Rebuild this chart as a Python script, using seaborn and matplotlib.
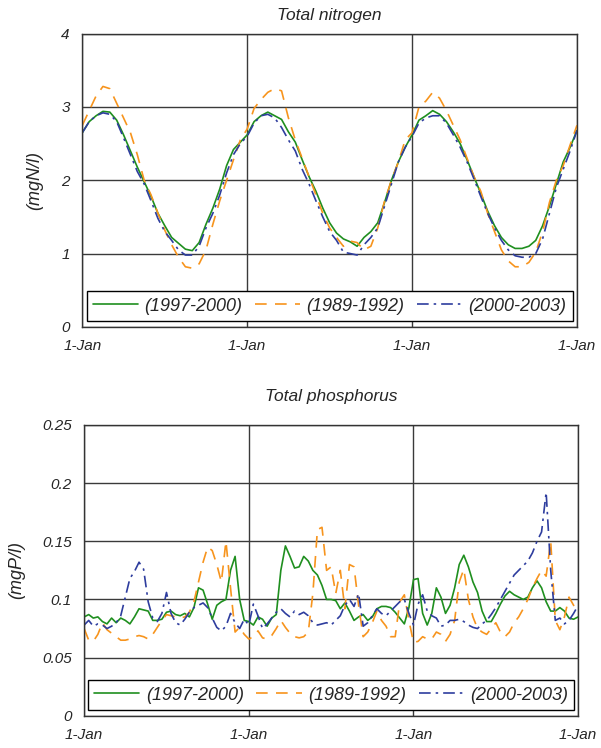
import numpy as np
import pandas as pd
import matplotlib
matplotlib.use('Agg')
import matplotlib.pyplot as plt
import seaborn as sns

# series labels / colours
labels = ['(1997-2000)', '(1989-1992)', '(2000-2003)']
colors = ['#1f8f1f', '#f7941d', '#2e3d9e']
year_ticks = [0, 1, 2, 3]
tick_labels = ['1-Jan', '1-Jan', '1-Jan', '1-Jan']

# total nitrogen (mgN/l), half-monthly readings over three years
n_green = [2.65, 2.80, 2.88, 2.94, 2.93, 2.82, 2.62, 2.40, 2.18, 1.98, 1.78, 1.55,
           1.38, 1.22, 1.14, 1.06, 1.04, 1.15, 1.40, 1.62, 1.88, 2.20, 2.42, 2.52,
           2.62, 2.80, 2.88, 2.93, 2.88, 2.83, 2.66, 2.52, 2.28, 2.05, 1.85, 1.62,
           1.42, 1.28, 1.20, 1.16, 1.10, 1.22, 1.30, 1.42, 1.70, 2.00, 2.25, 2.45,
           2.62, 2.82, 2.88, 2.95, 2.90, 2.80, 2.66, 2.50, 2.28, 2.05, 1.82, 1.58,
           1.38, 1.22, 1.12, 1.07, 1.07, 1.10, 1.18, 1.38, 1.65, 1.95, 2.25, 2.45,
           2.68]
n_orange = [2.75, 2.95, 3.15, 3.28, 3.25, 3.05, 2.85, 2.65, 2.35, 2.00, 1.80, 1.55,
            1.32, 1.12, 0.95, 0.82, 0.80, 0.86, 1.05, 1.40, 1.72, 2.00, 2.28, 2.55,
            2.70, 2.98, 3.10, 3.20, 3.25, 3.22, 2.85, 2.55, 2.30, 2.05, 1.80, 1.55,
            1.35, 1.22, 1.10, 1.17, 1.15, 1.05, 1.10, 1.35, 1.72, 2.00, 2.25, 2.55,
            2.65, 3.00, 3.08, 3.20, 3.12, 2.95, 2.75, 2.55, 2.30, 2.05, 1.85, 1.55,
            1.30, 1.05, 0.90, 0.82, 0.82, 0.88, 1.02, 1.30, 1.70, 2.00, 2.20, 2.48,
            2.75]
n_blue = [2.65, 2.80, 2.88, 2.92, 2.90, 2.80, 2.58, 2.35, 2.12, 1.95, 1.72, 1.48,
          1.30, 1.18, 1.05, 0.98, 0.98, 1.10, 1.35, 1.55, 1.80, 2.10, 2.35, 2.50,
          2.60, 2.78, 2.88, 2.90, 2.85, 2.72, 2.55, 2.40, 2.15, 1.95, 1.72, 1.50,
          1.30, 1.18, 1.02, 1.00, 0.98, 1.12, 1.22, 1.35, 1.65, 1.95, 2.25, 2.45,
          2.60, 2.78, 2.85, 2.88, 2.88, 2.78, 2.62, 2.45, 2.25, 2.02, 1.78, 1.55,
          1.35, 1.18, 1.05, 0.97, 0.95, 0.95, 1.00, 1.20, 1.55, 1.90, 2.15, 2.40,
          2.68]

# total phosphorus (mgP/l), ~10-daily readings over three years
p_green = [0.085, 0.087, 0.084, 0.085, 0.081, 0.079, 0.084, 0.080, 0.084, 0.082, 0.079, 0.085,
           0.092, 0.091, 0.090, 0.082, 0.082, 0.083, 0.089, 0.090, 0.087, 0.086, 0.088, 0.085,
           0.093, 0.110, 0.108, 0.096, 0.083, 0.095, 0.098, 0.100, 0.125, 0.137, 0.100, 0.082,
           0.081, 0.078, 0.085, 0.083, 0.077, 0.084, 0.087, 0.125, 0.146, 0.137, 0.127, 0.128,
           0.137, 0.133, 0.125, 0.121, 0.112, 0.100, 0.100, 0.099, 0.092, 0.097, 0.090, 0.082,
           0.085, 0.087, 0.082, 0.085, 0.092, 0.094, 0.094, 0.093, 0.089, 0.084, 0.079, 0.093,
           0.117, 0.118, 0.088, 0.078, 0.088, 0.110, 0.102, 0.088, 0.095, 0.110, 0.130, 0.138,
           0.128, 0.115, 0.106, 0.090, 0.081, 0.081, 0.088, 0.096, 0.103, 0.107, 0.104, 0.102,
           0.100, 0.102, 0.110, 0.116, 0.110, 0.098, 0.090, 0.090, 0.093, 0.090, 0.084, 0.083,
           0.085]
p_orange = [0.075, 0.065, 0.064, 0.070, 0.080, 0.074, 0.071, 0.068, 0.065, 0.065, 0.066, 0.068,
            0.069, 0.068, 0.066, 0.070, 0.076, 0.082, 0.087, 0.086, 0.085, 0.084, 0.085, 0.089,
            0.098, 0.115, 0.132, 0.145, 0.142, 0.130, 0.115, 0.150, 0.110, 0.072, 0.076, 0.070,
            0.066, 0.068, 0.073, 0.067, 0.066, 0.069, 0.075, 0.082, 0.076, 0.071, 0.068, 0.067,
            0.068, 0.072, 0.105, 0.160, 0.162, 0.125, 0.128, 0.105, 0.125, 0.092, 0.130, 0.128,
            0.095, 0.068, 0.072, 0.080, 0.090, 0.082, 0.077, 0.068, 0.068, 0.098, 0.104, 0.082,
            0.063, 0.064, 0.068, 0.066, 0.066, 0.072, 0.070, 0.064, 0.070, 0.082, 0.115, 0.126,
            0.100, 0.085, 0.075, 0.072, 0.070, 0.075, 0.080, 0.072, 0.068, 0.072, 0.080, 0.085,
            0.092, 0.100, 0.110, 0.118, 0.125, 0.120, 0.150, 0.082, 0.074, 0.085, 0.102, 0.095,
            0.090]
p_blue = [0.078, 0.082, 0.077, 0.079, 0.078, 0.075, 0.077, 0.080, 0.086, 0.102, 0.118, 0.124,
          0.132, 0.126, 0.098, 0.084, 0.081, 0.088, 0.106, 0.088, 0.080, 0.078, 0.083, 0.089,
          0.093, 0.095, 0.097, 0.093, 0.084, 0.076, 0.073, 0.077, 0.088, 0.080, 0.075, 0.083,
          0.078, 0.096, 0.086, 0.075, 0.079, 0.084, 0.089, 0.092, 0.088, 0.085, 0.090, 0.087,
          0.089, 0.086, 0.080, 0.078, 0.079, 0.080, 0.078, 0.082, 0.086, 0.095, 0.100, 0.094,
          0.105, 0.077, 0.080, 0.086, 0.092, 0.088, 0.086, 0.090, 0.094, 0.098, 0.100, 0.088,
          0.078, 0.096, 0.104, 0.090, 0.086, 0.084, 0.077, 0.078, 0.082, 0.082, 0.083, 0.081,
          0.078, 0.076, 0.075, 0.079, 0.082, 0.087, 0.093, 0.100, 0.107, 0.114, 0.121, 0.125,
          0.129, 0.133, 0.140, 0.150, 0.158, 0.192, 0.125, 0.082, 0.084, 0.079, 0.082, 0.088,
          0.095]

sns.set_style('white')
plt.rcParams['font.family'] = ['Liberation Sans', 'DejaVu Sans']
plt.rcParams['font.style'] = 'italic'

line_styles = ['-', (0, (7, 5)), (0, (7, 3, 1.5, 3))]

fig = plt.figure(figsize=(6.01, 7.48), dpi=100)
ax1 = fig.add_axes([0.137, 0.563, 0.823, 0.392])
ax2 = fig.add_axes([0.140, 0.043, 0.822, 0.389])


def draw(ax, series, ylim, yticks, yticklabels, ylabel, title, ylabel_x, tpad):
    for vals, lab, col, ls in zip(series, labels, colors, line_styles):
        t = np.arange(len(vals)) / ((len(vals) - 1) / 3)
        sns.lineplot(x=t, y=vals, ax=ax, color=col, linestyle=ls,
                     linewidth=1.2, label=lab)
    ax.set_xlim(0, 3)
    ax.set_ylim(*ylim)
    ax.set_xticks(year_ticks)
    ax.set_xticklabels(tick_labels, fontsize=11, style='italic')
    ax.set_yticks(yticks)
    ax.set_yticklabels(yticklabels, fontsize=11, style='italic')
    ax.grid(True, color='#3a3a3a', linewidth=1)
    ax.set_axisbelow(True)
    for s in ax.spines.values():
        s.set_color('#333333')
        s.set_linewidth(1)
    ax.tick_params(axis='x', direction='out', length=5, color='#333333', pad=4)
    ax.tick_params(axis='y', direction='out', length=4, color='#333333', pad=5)
    ax.set_ylabel(ylabel, fontsize=13, style='italic')
    ax.yaxis.set_label_coords(ylabel_x, 0.5)
    ax.set_title(title, fontsize=12.5, style='italic', pad=tpad)
    leg = ax.legend(loc='lower center', ncol=3, bbox_to_anchor=(0.5, 0.02),
                    borderaxespad=0, frameon=True, fancybox=False, framealpha=1,
                    edgecolor='black', handlelength=2.5, columnspacing=0.7,
                    handletextpad=0.35, borderpad=0.35,
                    prop={'style': 'italic', 'size': 13})
    leg.get_frame().set_linewidth(1)


draw(ax1, [n_green, n_orange, n_blue], (0, 4), [0, 1, 2, 3, 4],
     ['0', '1', '2', '3', '4'], '(mgN/l)', 'Total nitrogen', -0.08, 10)
draw(ax2, [p_green, p_orange, p_blue], (0, 0.25), [0, 0.05, 0.1, 0.15, 0.2, 0.25],
     ['0', '0.05', '0.1', '0.15', '0.2', '0.25'], '(mgP/l)', 'Total phosphorus', -0.12, 17)

fig.savefig('out.png', dpi=100)
